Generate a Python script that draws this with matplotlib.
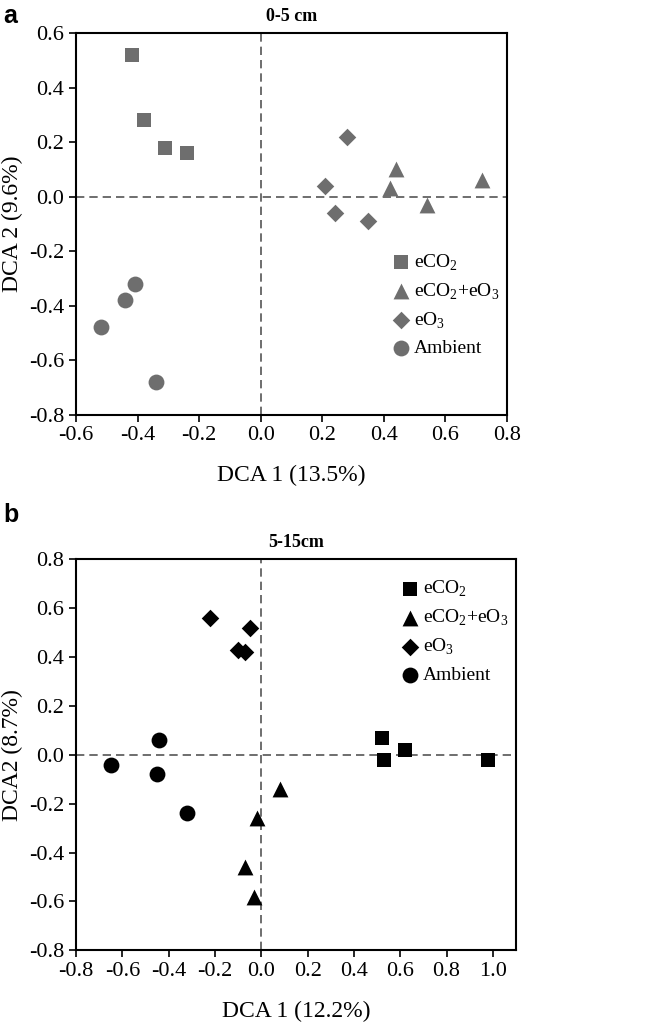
import numpy as np
import matplotlib.pyplot as plt

plt.rcParams['font.family'] = ['Liberation Serif', 'DejaVu Serif']
plt.rcParams['mathtext.fontset'] = 'custom'
plt.rcParams['mathtext.rm'] = 'Liberation Serif'

# Panel a (0-5 cm)
a_eco2_x = [-0.42, -0.38, -0.31, -0.24]
a_eco2_y = [0.52, 0.28, 0.18, 0.16]
a_both_x = [0.44, 0.42, 0.54, 0.72]
a_both_y = [0.10, 0.03, -0.03, 0.06]
a_eo3_x = [0.28, 0.21, 0.24, 0.35]
a_eo3_y = [0.22, 0.04, -0.06, -0.09]
a_amb_x = [-0.41, -0.44, -0.52, -0.34]
a_amb_y = [-0.32, -0.38, -0.48, -0.68]

# Panel b (5-15 cm)
b_eco2_x = [0.52, 0.53, 0.62, 0.98]
b_eco2_y = [0.07, -0.02, 0.02, -0.02]
b_both_x = [0.08, -0.02, -0.07, -0.03]
b_both_y = [-0.14, -0.26, -0.46, -0.58]
b_eo3_x = [-0.22, -0.05, -0.10, -0.07]
b_eo3_y = [0.56, 0.52, 0.43, 0.42]
b_amb_x = [-0.65, -0.44, -0.45, -0.32]
b_amb_y = [-0.04, 0.06, -0.08, -0.24]

labels = ['eCO$_2$', 'eCO$_2$+eO$_3$', 'eO$_3$', 'Ambient']

fig = plt.figure(figsize=(6.45, 10.34), dpi=100)
ax1 = fig.add_axes([0.118, 0.599, 0.668, 0.369])
ax2 = fig.add_axes([0.118, 0.081, 0.682, 0.378])


def fmt(t):
    return '%.1f' % (round(t, 1) + 0)


def draw(ax, data, color, xlim, xticks, ylim, yticks, title, xlabel, ylabel, leg_loc, leg_anchor):
    markers = ['s', '^', 'D', 'o']
    sizes = [95, 130, 80, 130]
    for (x, y), m, s, lab in zip(data, markers, sizes, labels):
        ax.scatter(x, y, marker=m, s=s, color=color, label=lab, zorder=3, linewidths=0)
    ax.axhline(0, color='#555555', ls='--', lw=1.2, dashes=(5, 3), zorder=1)
    ax.axvline(0, color='#555555', ls='--', lw=1.2, dashes=(5, 3), zorder=1)
    ax.set_xlim(xlim)
    ax.set_ylim(ylim)
    ax.set_xticks(xticks)
    ax.set_yticks(yticks)
    ax.set_xticklabels([fmt(t) for t in xticks])
    ax.set_yticklabels([fmt(t) for t in yticks])
    ax.tick_params(direction='out', length=5, width=1.2, labelsize=16, top=False, right=False)
    for sp in ax.spines.values():
        sp.set_linewidth(1.5)
    ax.set_title(title, fontsize=13, fontweight='bold', pad=9)
    ax.set_xlabel(xlabel, fontsize=17, labelpad=14)
    ax.set_ylabel(ylabel, fontsize=17, labelpad=4)
    ax.legend(loc=leg_loc, bbox_to_anchor=leg_anchor, frameon=False, fontsize=14,
              handletextpad=0.1, labelspacing=0.45, borderaxespad=0.2, handlelength=1.2)


draw(ax1,
     [(a_eco2_x, a_eco2_y), (a_both_x, a_both_y), (a_eo3_x, a_eo3_y), (a_amb_x, a_amb_y)],
     '#6e6e6e', (-0.6, 0.8), np.arange(-0.6, 0.81, 0.2), (-0.8, 0.6), np.arange(-0.8, 0.61, 0.2),
     '0-5 cm', 'DCA 1 (13.5%)', 'DCA 2 (9.6%)', 'lower right', (1.01, 0.12))

draw(ax2,
     [(b_eco2_x, b_eco2_y), (b_both_x, b_both_y), (b_eo3_x, b_eo3_y), (b_amb_x, b_amb_y)],
     'black', (-0.8, 1.1), np.arange(-0.8, 1.01, 0.2), (-0.8, 0.8), np.arange(-0.8, 0.81, 0.2),
     '5-15cm', 'DCA 1 (12.2%)', 'DCA2 (8.7%)', 'upper right', (1.01, 0.98))

fig.text(0.005, 0.985, 'a', fontsize=18, fontweight='bold', family='Liberation Sans', va='center')
fig.text(0.005, 0.502, 'b', fontsize=18, fontweight='bold', family='Liberation Sans', va='center')

fig.savefig('out.png', dpi=100)
